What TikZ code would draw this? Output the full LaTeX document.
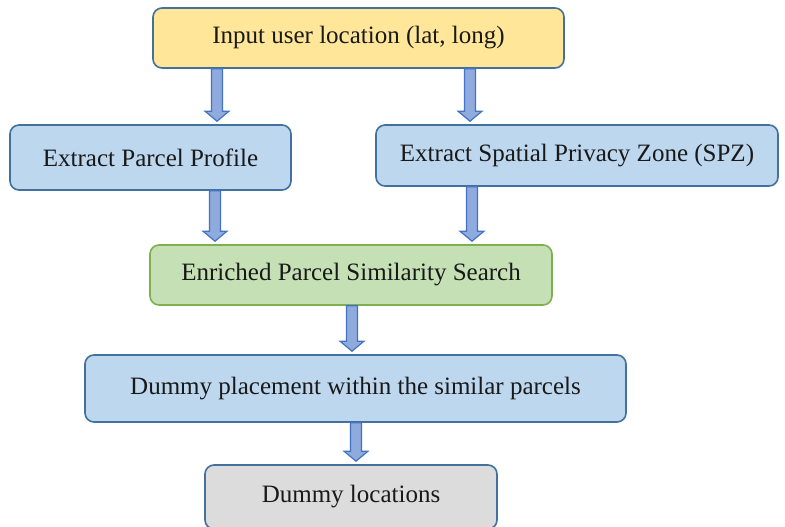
\documentclass[tikz,border=0pt]{standalone}
\usepackage{fontspec}
\setmainfont{Liberation Serif}
\usetikzlibrary{calc}
\definecolor{bluefill}{HTML}{BDD7EE}
\definecolor{blueline}{HTML}{41719C}
\definecolor{yelfill}{HTML}{FFE699}
\definecolor{grnfill}{HTML}{C5E0B4}
\definecolor{grnline}{HTML}{7FB04F}
\definecolor{grayfill}{HTML}{DCDCDC}
\definecolor{arrfill}{HTML}{8FAADC}
\definecolor{arrline}{HTML}{4472C4}
\tikzset{
  box/.style={draw=blueline, line width=1.6pt, rounded corners=9pt, fill=bluefill,
    inner sep=0pt, font=\fontsize{25}{29}\selectfont, text=black!90},
  barrow/.style={draw=arrline, fill=arrfill, line width=1.2pt, line join=miter}
}
\newcommand\blockarrow[3]{%
  \draw[barrow] let \p1=(#1.south), \p2=(#2.north) in
   (#3pt-5.5pt,\y1) -- (#3pt+5.5pt,\y1) -- (#3pt+5.5pt,\y2+13pt) -- (#3pt+12pt,\y2+13pt)
   -- (#3pt,\y2+3pt) -- (#3pt-12pt,\y2+13pt) -- (#3pt-5.5pt,\y2+13pt) -- cycle;}
\begin{document}
\begin{tikzpicture}[x=1pt,y=-1pt]
\useasboundingbox (0,0) rectangle (785,527);
\clip (0,0) rectangle (785,527);
\fill[white] (0,0) rectangle (785,527);
\node[box, fill=yelfill, minimum width=411pt, minimum height=60pt] (in) at (358.5,38) {Input user location (lat, long)};
\node[box, minimum width=281pt, minimum height=65pt] (epp) at (150.5,157.5) {Extract Parcel Profile};
\node[box, minimum width=402pt, minimum height=61pt] (spz) at (577,155.5) {Extract Spatial Privacy Zone (SPZ)};
\node[box, fill=grnfill, draw=grnline, minimum width=402pt, minimum height=60pt] (eps) at (351,275) {Enriched Parcel Similarity Search};
\node[box, minimum width=541pt, minimum height=67pt] (dp) at (355.5,388.5) {Dummy placement within the similar parcels};
\node[box, fill=grayfill, minimum width=292pt, minimum height=64pt] (dl) at (351,497) {Dummy locations};
\blockarrow{in}{epp}{217}
\blockarrow{in}{spz}{470}
\blockarrow{epp}{eps}{215}
\blockarrow{spz}{eps}{472}
\blockarrow{eps}{dp}{352}
\blockarrow{dp}{dl}{356}
\end{tikzpicture}
\end{document}
